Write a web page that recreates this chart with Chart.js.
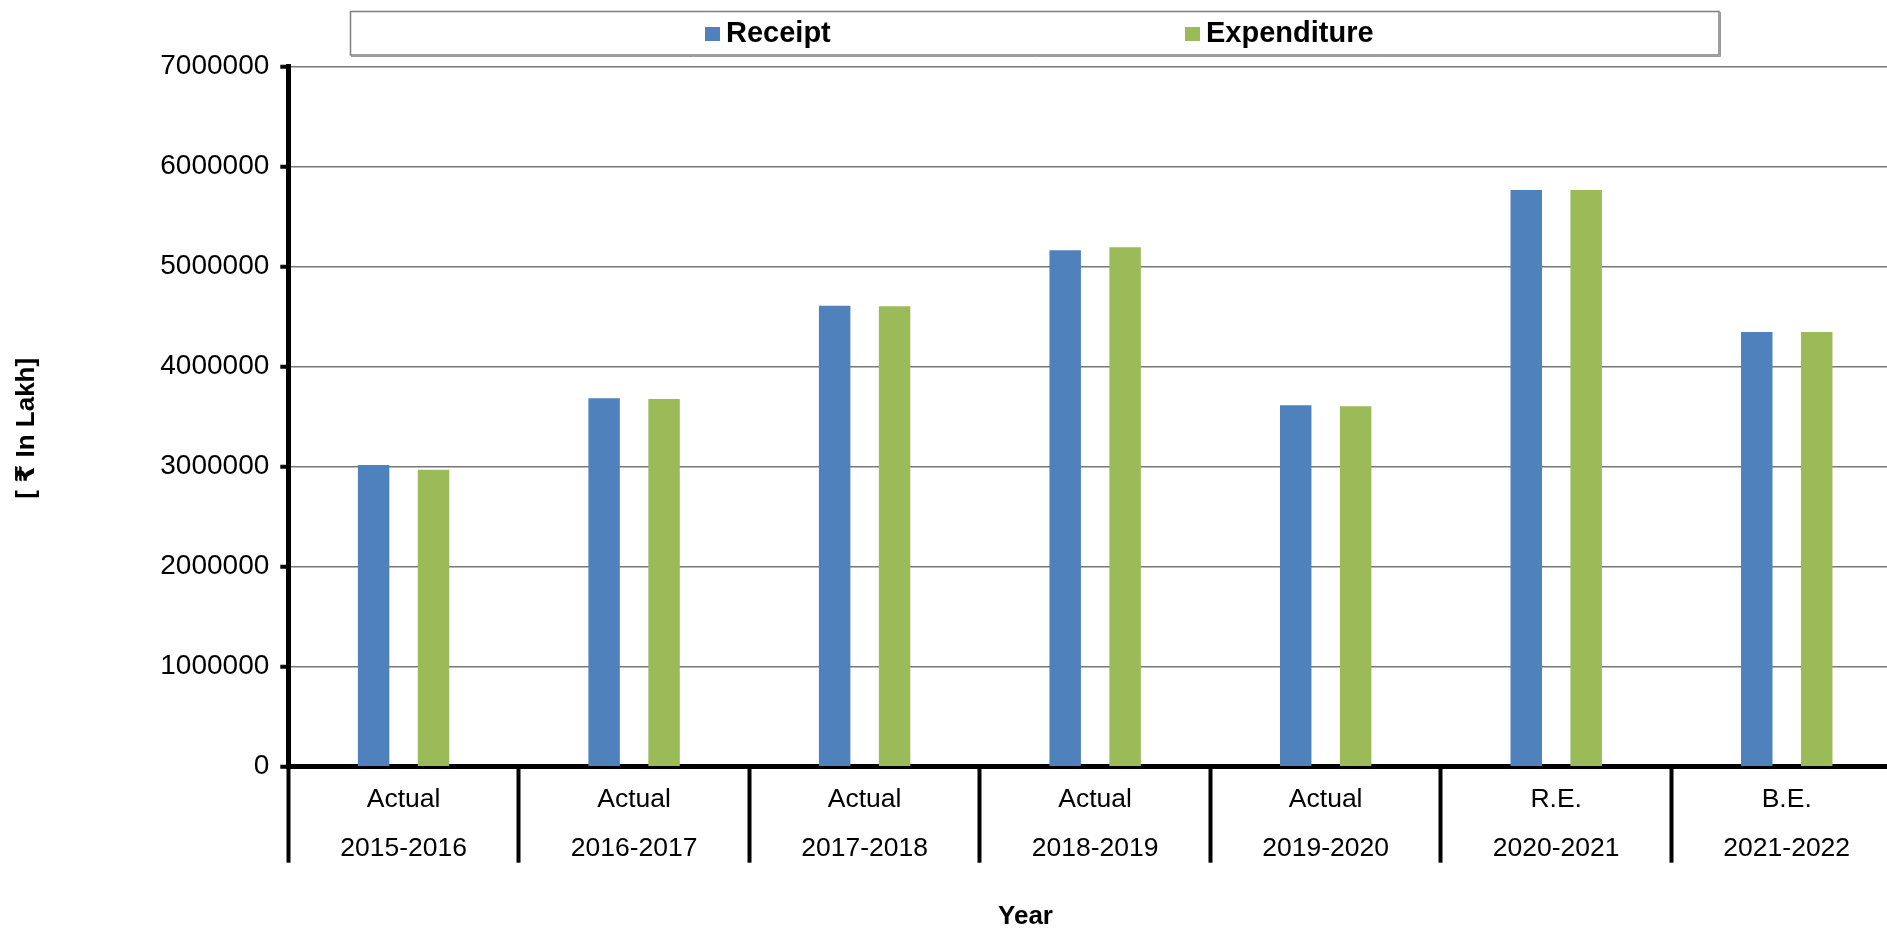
<!DOCTYPE html>
<html>
<head>
<meta charset="utf-8">
<script src="https://cdn.jsdelivr.net/npm/chart.js@4.4.1/dist/chart.umd.min.js"></script>
<style>
html,body{margin:0;padding:0;overflow:hidden;background:#fff;width:1887px;height:928px}
canvas{display:block}
</style>
</head>
<body>
<canvas id="c" width="1905" height="928"></canvas>
<script>
// ---- data ----
const categories = [
  ["Actual", "2015-2016"],
  ["Actual", "2016-2017"],
  ["Actual", "2017-2018"],
  ["Actual", "2018-2019"],
  ["Actual", "2019-2020"],
  ["R.E.", "2020-2021"],
  ["B.E.", "2021-2022"]
];
const receipt     = [3017000, 3684000, 4610000, 5164000, 3614000, 5767000, 4347000];
const expenditure = [2970000, 3677000, 4604000, 5194000, 3604000, 5767000, 4347000];
const yTicks = [0, 1000000, 2000000, 3000000, 4000000, 5000000, 6000000, 7000000];
const seriesNames = ["Receipt", "Expenditure"];
const seriesColors = ["#4F81BD", "#9BBB59"];
const yTitle = "[ \u20B9 In Lakh]";
const xTitle = "Year";

const FAM = '"Liberation Sans", Arial, "DejaVu Sans", sans-serif';

const decor = {
  id: 'decor',
  afterDraw(chart) {
    const ctx = chart.ctx;
    ctx.save();
    // legend box
    ctx.strokeStyle = '#7f7f7f';
    ctx.lineWidth = 1.5;
    ctx.strokeRect(350.5, 11.5, 1368.5, 43.5);
    ctx.strokeStyle = '#9a9a9a';
    ctx.lineWidth = 1;
    ctx.beginPath();
    ctx.moveTo(351, 56.5); ctx.lineTo(1720.5, 56.5); ctx.lineTo(1720.5, 12);
    ctx.stroke();
    // legend items
    const itemX = [705, 1185];
    ctx.font = 'bold 29px ' + FAM;
    ctx.textBaseline = 'alphabetic';
    ctx.textAlign = 'left';
    seriesNames.forEach((n, i) => {
      ctx.fillStyle = seriesColors[i];
      ctx.fillRect(itemX[i], 27, 15, 14);
      ctx.fillStyle = '#000';
      ctx.fillText(n, itemX[i] + 21, 41.5);
    });
    // axis titles
    ctx.font = 'bold 26px ' + FAM;
    ctx.textAlign = 'center';
    ctx.fillText(xTitle, 1025.5, 923.5);
    ctx.translate(33.5, 428.3);
    ctx.rotate(-Math.PI / 2);
    ctx.fillText(yTitle, 0, 0);
    ctx.restore();
  }
};

new Chart(document.getElementById('c'), {
  type: 'bar',
  data: {
    labels: categories,
    datasets: [
      { label: seriesNames[0], data: receipt, backgroundColor: seriesColors[0] },
      { label: seriesNames[1], data: expenditure, backgroundColor: seriesColors[1] }
    ]
  },
  options: {
    responsive: false,
    animation: false,
    devicePixelRatio: 1,
    categoryPercentage: 0.52,
    barPercentage: 0.525,
    layout: { padding: { top: 66.7, right: 3, bottom: 0, left: 0 } },
    plugins: { legend: { display: false }, tooltip: { enabled: false } },
    scales: {
      x: {
        grid: { display: true, drawOnChartArea: false, drawTicks: true, tickLength: 96,
                tickColor: '#000', tickWidth: 4, color: '#000', offset: true },
        border: { display: true, color: '#000', width: 5 },
        ticks: { color: '#000', font: { family: FAM, size: 26.5, lineHeight: 49 / 26.5 },
                 padding: -88, maxRotation: 0, minRotation: 0, autoSkip: false },
        afterFit(s) { s.height = 928 - 766.7; }
      },
      y: {
        min: 0, max: 7000000,
        afterBuildTicks(s) { s.ticks = yTicks.map(v => ({ value: v })); },
        grid: { color: '#777777', lineWidth: 1.5, tickColor: '#000', tickWidth: 4, tickLength: 8, drawTicks: true },
        border: { display: true, color: '#000', width: 5 },
        ticks: { color: '#000', font: { family: FAM, size: 28 }, padding: 11, callback: v => String(v) },
        afterFit(s) { s.width = 288.3; }
      }
    }
  },
  plugins: [decor]
});
</script>
</body>
</html>
